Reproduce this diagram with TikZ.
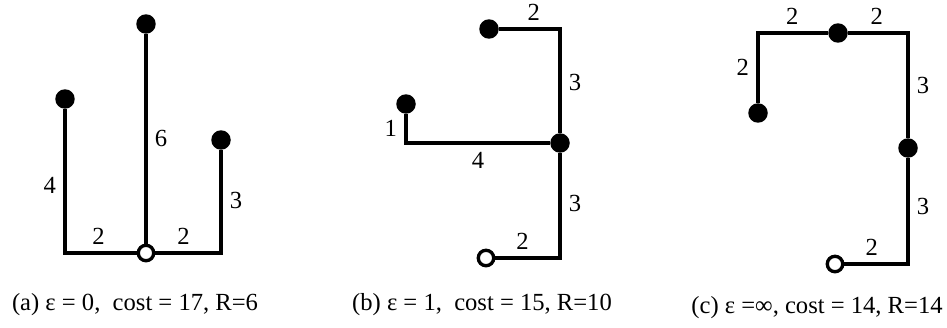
\documentclass[tikz,border=0pt]{standalone}
\usepackage{fontspec}
\setmainfont{Liberation Serif}
\usepackage{tikz}
\usetikzlibrary{positioning, calc}
\tikzset{
    leaf_node/.style={
        circle, fill=black, inner sep=0pt, minimum size=0.39cm
    },
    source_node/.style={
        circle, draw=black, fill=white, line width=1.9pt, inner sep=0pt, minimum size=0.31cm
    },
    wire/.style={
        line width=2.2pt, draw=black
    },
    wlabel/.style={
        inner sep=4pt, font=\fontsize{14}{16}\selectfont
    },
    caption/.style={
        inner sep=0pt, font=\fontsize{14}{16}\selectfont
    }
}

\begin{document}
\begin{tikzpicture}[x=0.02cm, y=-0.02cm]
    \useasboundingbox (0,0) rectangle (947,328);

    % (a) epsilon = 0
    \node[source_node] (a0) at (146, 253) {};
    \node[leaf_node] (a1) at (65, 99) {};
    \node[leaf_node] (a2) at (146, 24) {};
    \node[leaf_node] (a3) at (221, 140) {};
    \coordinate (a1c) at (65, 253);
    \coordinate (a3c) at (221, 253);
    \draw[wire] (a1) -- node[wlabel, left, pos=0.53] {4} (a1c) -- node[wlabel, above, pos=0.47] {2} (a0);
    \draw[wire] (a0) -- node[wlabel, right, pos=0.50] {6} (a2);
    \draw[wire] (a0) -- node[wlabel, above, pos=0.43] {2} (a3c) -- node[wlabel, right, pos=0.51] {3} (a3);
    \node[caption] (capa) at (135, 305) {(a) ε = 0, \ cost = 17, R=6};

    % (b) epsilon = 1
    \node[source_node] (b0) at (486, 258) {};
    \node[leaf_node] (b1) at (560, 143) {};
    \node[leaf_node] (b2) at (489, 29) {};
    \node[leaf_node] (b3) at (406, 104) {};
    \coordinate (b0c) at (560, 258);
    \coordinate (b2c) at (560, 29);
    \coordinate (b3c) at (406, 143);
    \draw[wire] (b0) -- node[wlabel, above, pos=0.42] {2} (b0c) -- node[wlabel, right, pos=0.52] {3} (b1);
    \draw[wire] (b1) -- node[wlabel, right, pos=0.49] {3} (b2c) -- node[wlabel, above, pos=0.43] {2} (b2);
    \draw[wire] (b1) -- node[wlabel, below, pos=0.50] {4} (b3c) -- node[wlabel, left, pos=0.52] {1} (b3);
    \node[caption] (capb) at (482, 305) {(b) ε = 1, \ cost = 15, R=10};

    % (c) epsilon = infinity
    \node[source_node] (c0) at (835, 264) {};
    \node[leaf_node] (c1) at (908, 148) {};
    \node[leaf_node] (c2) at (838, 33) {};
    \node[leaf_node] (c3) at (758, 113) {};
    \coordinate (c0c) at (908, 264);
    \coordinate (c1c) at (908, 33);
    \coordinate (c3c) at (758, 33);
    \draw[wire] (c0) -- node[wlabel, above, pos=0.43] {2} (c0c) -- node[wlabel, right, pos=0.54] {3} (c1);
    \draw[wire] (c1) -- node[wlabel, right, pos=0.50] {3} (c1c) -- node[wlabel, above, pos=0.52] {2} (c2);
    \draw[wire] (c2) -- node[wlabel, above, pos=0.51] {2} (c3c) -- node[wlabel, left, pos=0.49] {2} (c3);
    \node[caption] (capc) at (817, 308) {(c) ε =∞, cost = 14, R=14};
\end{tikzpicture}
\end{document}
